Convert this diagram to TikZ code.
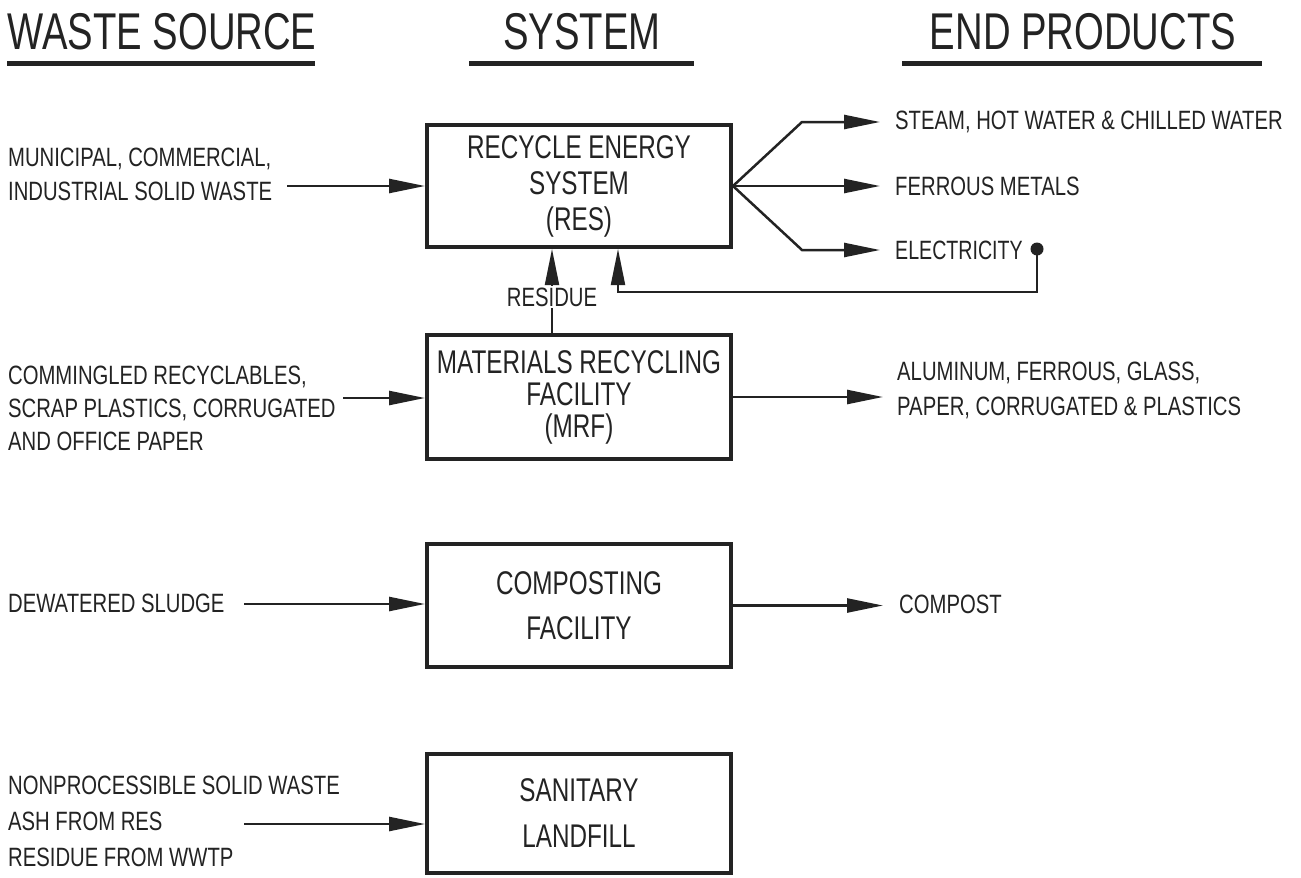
\documentclass[tikz,border=0pt]{standalone}
\usepackage{fontspec}
\setmainfont{Liberation Sans}[FakeStretch=0.74]
\newfontfamily\sidefont{Liberation Sans}[FakeStretch=0.765]
\usetikzlibrary{arrows.meta}
\definecolor{ink}{RGB}{35,35,35}
\begin{document}
\begin{tikzpicture}[x=1pt,y=-1pt,
  every node/.style={text=ink},
  box/.style={draw=ink, line width=4pt, minimum width=304pt, align=center, inner sep=0pt, font=\fontsize{32.8}{36}\selectfont},
  side/.style={anchor=west, align=left, inner sep=0pt, font=\sidefont\fontsize{26.5}{34}\selectfont},
  head/.style={inner sep=0pt, font=\fontsize{51.7}{60}\selectfont},
  arr/.style={draw=ink, line width=2.5pt, -{Triangle[length=36pt,width=14pt]}},
  uline/.style={draw=ink, line width=5pt},
  dotstyle/.style={circle, fill=ink, inner sep=0pt, minimum size=13pt}
]
\path[fill=white, use as bounding box] (0,0) rectangle (1301,878);

% headings
\node[head] (h1) at (162,31.5) {WASTE SOURCE};
\node[head] (h2) at (582,31.5) {SYSTEM};
\node[head] (h3) at (1083,31.5) {END PRODUCTS};
\draw[uline] (7,63) -- (315,63);
\draw[uline] (469,63) -- (694,63);
\draw[uline] (902,63) -- (1262,63);

% system boxes
\node[box, minimum height=122pt] (res) at (579,186) {RECYCLE ENERGY\\SYSTEM\\(RES)};
\node[box, minimum height=124pt] (mrf) at (579,397) {MATERIALS RECYCLING\\[-4pt]FACILITY\\[-4pt](MRF)};
\node[box, minimum height=123pt] (comp) at (579,605.5) {COMPOSTING\\[9pt]FACILITY};
\node[box, minimum height=119pt] (land) at (579,813.5) {SANITARY\\[10pt]LANDFILL};

% waste sources
\node[side] (src1) at (8,174) {MUNICIPAL, COMMERCIAL,\\INDUSTRIAL SOLID WASTE};
\node[side, font=\sidefont\fontsize{26.5}{33}\selectfont] (src2) at (8,408) {COMMINGLED RECYCLABLES,\\SCRAP PLASTICS, CORRUGATED\\AND OFFICE PAPER};
\node[side] (src3) at (8,603) {DEWATERED SLUDGE};
\node[side, font=\sidefont\fontsize{26.5}{36}\selectfont] (src4) at (8,821) {NONPROCESSIBLE SOLID WASTE\\ASH FROM RES\\RESIDUE FROM WWTP};

% end products
\node[side] (p1) at (895,122) {STEAM, HOT WATER \& CHILLED WATER};
\node[side] (p2) at (895,186) {FERROUS METALS};
\node[side, font=\fontsize{26.5}{34}\selectfont] (p3) at (895,250) {ELECTRICITY};
\node[side, font=\sidefont\fontsize{26.5}{35}\selectfont] (p4) at (897,390) {ALUMINUM, FERROUS, GLASS,\\PAPER, CORRUGATED \& PLASTICS};
\node[side] (p5) at (899,604) {COMPOST};
\node[dotstyle] (dot) at (1037,249) {};

% inputs
\coordinate (i1) at (287,186);
\coordinate (i2) at (343,398);
\coordinate (i3) at (244,604);
\coordinate (i4) at (244,824);
\draw[arr] (i1) -- (i1 -| res.west);
\draw[arr] (i2) -- (i2 -| mrf.west);
\draw[arr] (i3) -- (i3 -| comp.west);
\draw[arr] (i4) -- (i4 -| land.west);

% RES outputs
\coordinate (k1) at (802,122);
\coordinate (k3) at (802,250);
\coordinate (e1) at (880,122);
\coordinate (e2) at (880,186);
\coordinate (e3) at (880,250);
\draw[arr] (res.east) -- (k1) -- (e1);
\draw[arr] (res.east) -- (e2);
\draw[arr] (res.east) -- (k3) -- (e3);

% MRF and compost outputs
\coordinate (o4) at (883,397);
\draw[arr] (mrf.east) -- (o4);
\draw[arr] (comp.east) -- (comp.east -| o4);

% electricity return
\coordinate (ret) at (618,292);
\draw[arr, line width=2pt] (dot.center) -- (dot.center |- ret) -- (ret) -- (ret |- res.south);

% residue
\coordinate (rx) at (552,0);
\draw[arr, line width=2pt] (rx |- mrf.north) -- (rx |- res.south)
  node[pos=0.43, fill=white, inner sep=2pt, font=\sidefont\fontsize{26.5}{30}\selectfont] (resid) {RESIDUE};
\end{tikzpicture}
\end{document}
